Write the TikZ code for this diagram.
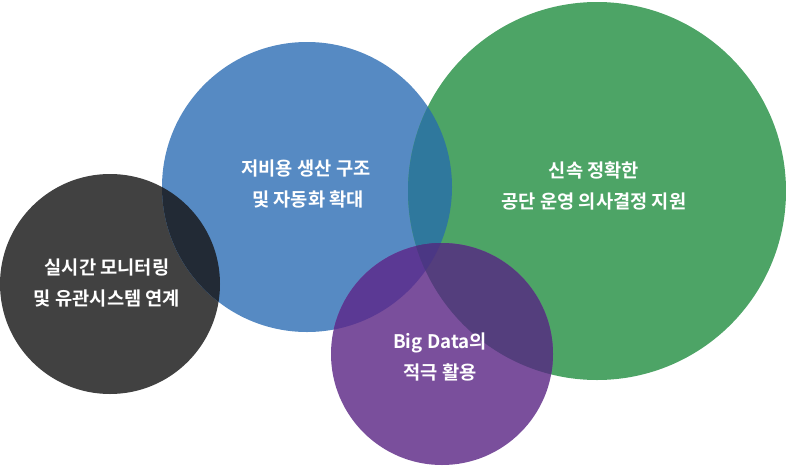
\documentclass[tikz,border=0pt]{standalone}
\usepackage{fontspec}
\usepackage{xcolor}
\usepackage{tikz}
\usetikzlibrary{positioning}
\newfontfamily\krfont{Noto Sans CJK KR}[BoldFont={* Bold}]

\definecolor{darkgrey}{HTML}{414141}
\definecolor{bluecirc}{HTML}{568AC3}
\definecolor{greencirc}{HTML}{4DA466}
\definecolor{purplecirc}{HTML}{7A4F9C}
\definecolor{darkblue}{HTML}{222A35}
\definecolor{bluegreen}{HTML}{2F789D}
\definecolor{bluepurple}{HTML}{5B3994}
\definecolor{greenpurple}{HTML}{543E7D}
\definecolor{allthree}{HTML}{4B3784}

\begin{document}
\begin{tikzpicture}[
    x=1pt, y=-1pt,
    label/.style={
        text=white,
        align=center,
        font=\krfont\bfseries\fontsize{18.7}{31.5}\selectfont
    }
]
\useasboundingbox (0,0) rectangle (786,466);

% Centres
\coordinate (mon) at (110,284);
\coordinate (cost) at (307,187);
\coordinate (ops) at (597,191);
\coordinate (data) at (442,354);

% Circles
\fill[darkgrey] (mon) circle (110);
\fill[bluecirc] (cost) circle (145);
\fill[greencirc] (ops) circle (189);
\fill[purplecirc] (data) circle (111);

% Overlaps
\begin{scope}
    \clip (mon) circle (110);
    \fill[darkblue] (cost) circle (145);
\end{scope}
\begin{scope}
    \clip (cost) circle (145);
    \fill[bluegreen] (ops) circle (189);
\end{scope}
\begin{scope}
    \clip (data) circle (111);
    \fill[bluepurple] (cost) circle (145);
    \fill[greenpurple] (ops) circle (189);
    \clip (cost) circle (145);
    \fill[allthree] (ops) circle (189);
\end{scope}

% Labels
\node[label] (monlabel) at (107,283) {실시간 모니터링\\및 유관시스템 연계};
\node[label] (costlabel) at (306,184) {저비용 생산 구조\\\ 및 자동화 확대};
\node[label] (opslabel) at (594,186) {신속 정확한\\공단 운영 의사결정 지원};
\node[label] (datalabel) at (440,357) {Big Data의\\적극 활용};

\end{tikzpicture}
\end{document}
